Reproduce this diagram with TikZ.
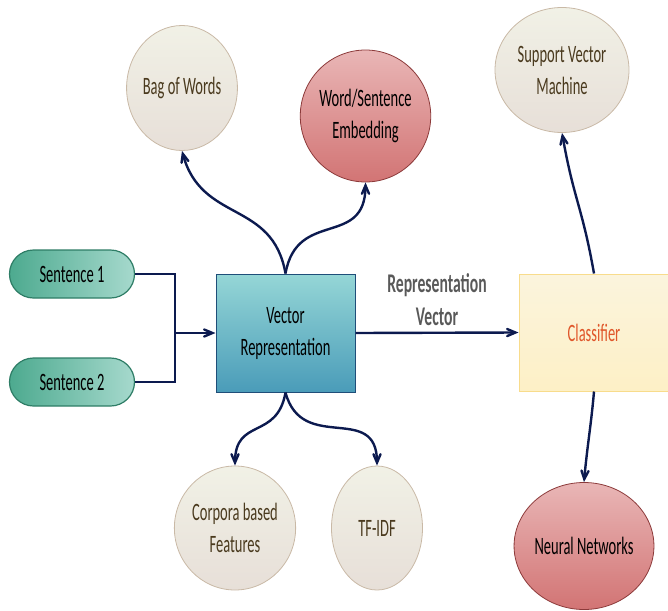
\documentclass[tikz,border=0pt]{standalone}
\usepackage{fontspec}
\setmainfont{Carlito}[FakeStretch=0.58]
\usepackage{tikz}
\usetikzlibrary{arrows}
\usetikzlibrary{calc}
\usetikzlibrary{shapes.geometric,shapes.misc}
\definecolor{linkcol}{HTML}{0C1A4F}
\definecolor{sentdark}{HTML}{4DAA8F}
\definecolor{sentlight}{HTML}{A6D9CD}
\definecolor{sentline}{HTML}{2E7D66}
\definecolor{vectop}{HTML}{95D6D6}
\definecolor{vecbot}{HTML}{4A9CB9}
\definecolor{vecline}{HTML}{1F4E79}
\definecolor{clstop}{HTML}{FBF4DD}
\definecolor{clsbot}{HTML}{FDF0C6}
\definecolor{clsline}{HTML}{F8DC8C}
\definecolor{clstext}{HTML}{E0562A}
\definecolor{beigetop}{HTML}{F1F1E6}
\definecolor{beigebot}{HTML}{E7DFD8}
\definecolor{beigeline}{HTML}{C9B9A6}
\definecolor{beigetext}{HTML}{4A3A1E}
\definecolor{rosetop}{HTML}{E9B6B6}
\definecolor{rosebot}{HTML}{D27474}
\definecolor{roseline}{HTML}{8C3A3A}
\definecolor{labelgray}{HTML}{595959}

\begin{document}
\begin{tikzpicture}[x=1pt,y=1pt,->,>=angle 45,line width=2.4pt,
  every node/.style={font=\fontsize{25}{32}\selectfont,align=center},
  sent node/.style={rounded rectangle,draw=sentline,line width=1.2pt,left color=sentdark,right color=sentlight,minimum width=125pt,minimum height=48pt,inner sep=0pt},
  vec node/.style={rectangle,draw=vecline,line width=1pt,top color=vectop,bottom color=vecbot,minimum width=139pt,minimum height=118pt,inner sep=0pt},
  cls node/.style={rectangle,draw=clsline,line width=1pt,top color=clstop,bottom color=clsbot,text=clstext,minimum width=150pt,minimum height=117pt,inner sep=0pt},
  beige node/.style={ellipse,draw=beigeline,line width=0.8pt,top color=beigetop,bottom color=beigebot,text=beigetext,inner sep=0pt},
  rose node/.style={ellipse,draw=roseline,line width=0.8pt,top color=rosetop,bottom color=rosebot,inner sep=0pt}]

  \useasboundingbox (0,0) rectangle (668,-610);

  \node[sent node] (s1) at (72,-274) {Sentence 1};
  \node[sent node] (s2) at (72,-382) {Sentence 2};
  \node[vec node] (vec) at (285.5,-333) {Vector\\Representation};
  \node[cls node] (cls) at (594,-332.5) {Classifier};

  \node[beige node,minimum width=106pt,minimum height=125pt] (bow) at (182,-88) {Bag of Words};
  \node[rose node,minimum width=117pt,minimum height=132pt] (emb) at (365.5,-116) {Word/Sentence\\Embedding};
  \node[beige node,minimum width=134pt,minimum height=125pt] (svm) at (562,-70) {Support Vector\\Machine};
  \node[beige node,minimum width=116pt,minimum height=124pt] (cbf) at (235,-528) {Corpora based\\Features};
  \node[beige node,minimum width=91pt,minimum height=124pt] (tfidf) at (377,-528) {TF-IDF};
  \node[rose node,minimum width=122pt,minimum height=127pt] (nn) at (584,-546) {Neural Networks};

  \coordinate (join) at (175,-333);

  \path[color=linkcol]
(s1.east)	edge [-,to path={-| (\tikztotarget)}] (join)
(s2.east)	edge [-,to path={-| (\tikztotarget)}] (join)
(join)	edge (vec.west)
(vec.east)	edge node [above=3pt,text=labelgray,font=\fontsize{27}{33}\selectfont\bfseries] {Representation\\Vector} (cls.west)
(vec.north)	edge [out=100,in=-75,looseness=1.2] (bow.south)
	edge [out=80,in=-90,looseness=1.4] (emb.south)
(vec.south)	edge [out=-100,in=90,looseness=1.4] (cbf.north)
	edge [out=-75,in=90,looseness=1.4] (tfidf.north)
(cls.north)	edge [out=100,in=-80,looseness=1.2] (svm.south)
(cls.south)	edge [out=-95,in=85] (nn.north)
;
\end{tikzpicture}
\end{document}
